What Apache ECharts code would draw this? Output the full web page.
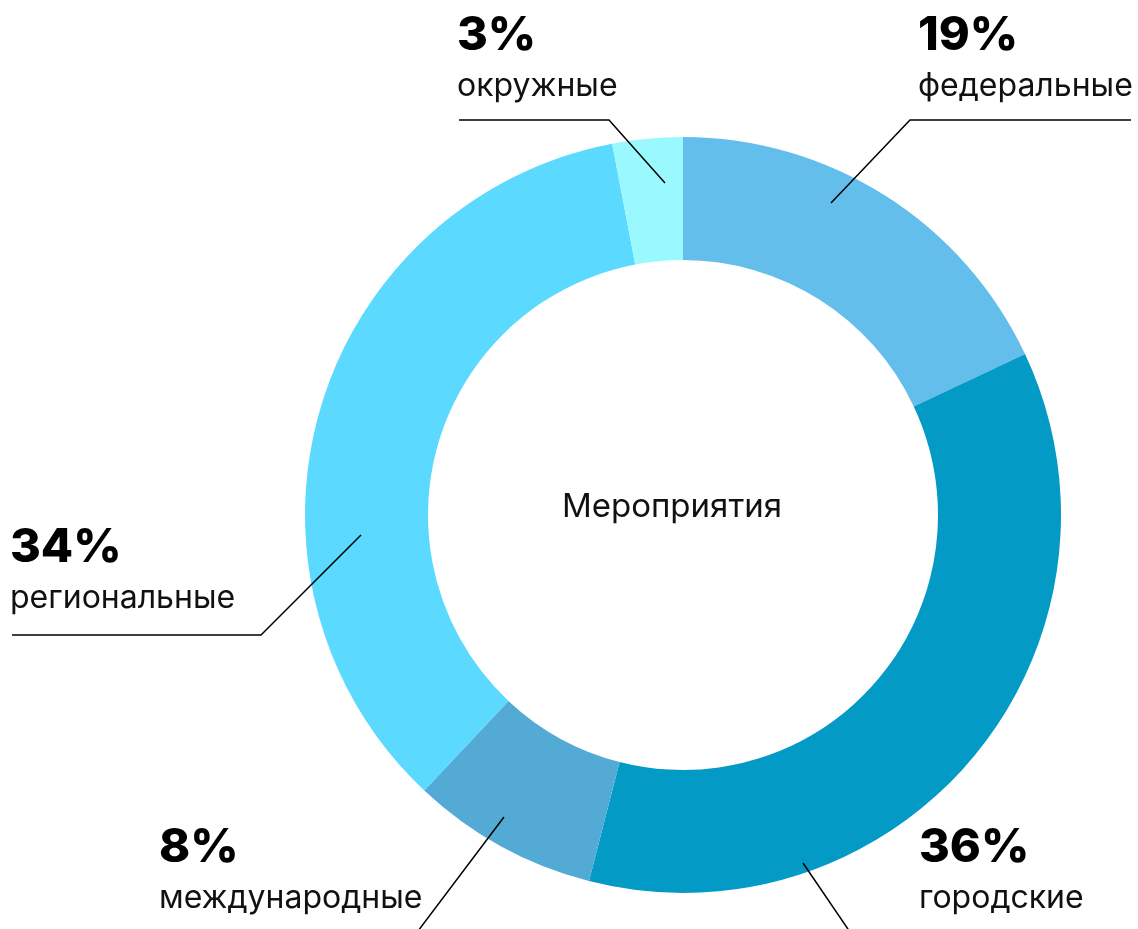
<!DOCTYPE html>
<html>
<head>
<meta charset="utf-8">
<script src="https://cdn.jsdelivr.net/npm/echarts@6/dist/echarts.min.js"></script>
<style>
  html, body { margin: 0; padding: 0; background: #fff; }
  #chart { width: 1138px; height: 929px; }
</style>
</head>
<body>
<div id="chart"></div>
<script>
const names = ["федеральные", "городские", "международные", "региональные", "окружные"];
// slice sizes as drawn in the ring
const values = [18, 36, 8, 35, 3];
// percentages printed next to each slice
const shown = ["19%", "36%", "8%", "34%", "3%"];
const colors = ["#63beeb", "#039bc5", "#52aad5", "#5bd9ff", "#99f9ff"];

// callout placement: text box top-left, line start on the ring, elbow, end of the underline
const callouts = [
  { tx: 918, ty: 11, anchor: [831, 203], elbow: [910, 120], endX: 1131 },
  { tx: 919, ty: 823, anchor: [803, 863], elbow: [852, 935], endX: 1131 },
  { tx: 159, ty: 823, anchor: [504, 817], elbow: [415, 935], endX: 160 },
  { tx: 10, ty: 523, anchor: [361, 535], elbow: [261, 635], endX: 12 },
  { tx: 457, ty: 11, anchor: [665, 183], elbow: [609, 120], endX: 459 }
];

const chart = echarts.init(document.getElementById("chart"));

// callout lines are drawn above the ring, as in the original
const leaderLines = callouts.map(c => ({
  type: "polyline",
  z: 100,
  shape: { points: [c.anchor, c.elbow, [c.endX, c.elbow[1]]] },
  style: { stroke: "#000", lineWidth: 1.5, fill: null }
}));

chart.setOption({
  animation: false,
  graphic: [{
    type: "text",
    z: 100,
    style: {
      x: 672, y: 507,
      text: "Мероприятия",
      textAlign: "center",
      textVerticalAlign: "middle",
      font: "400 33px Inter",
      fill: "#111"
    }
  }].concat(leaderLines),
  series: [{
    type: "pie",
    center: [683, 515],
    radius: [255, 378],
    startAngle: 90,
    avoidLabelOverlap: false,
    emphasis: { scale: false },
    data: names.map((n, i) => ({
      name: n,
      value: values[i],
      itemStyle: { color: colors[i] }
    })),
    label: {
      show: true,
      formatter: p => "{p|" + shown[p.dataIndex] + "}\n{n|" + p.name + "}",
      rich: {
        p: { fontFamily: "Inter", fontWeight: 800, fontSize: 47, lineHeight: 50, color: "#000" },
        n: { fontFamily: "Inter", fontWeight: 400, fontSize: 32, lineHeight: 50, color: "#111" }
      }
    },
    labelLine: { show: false },
    labelLayout: params => {
      const c = callouts[params.dataIndex];
      return { x: c.tx, y: c.ty, align: "left", verticalAlign: "top" };
    }
  }]
});
</script>
</body>
</html>
